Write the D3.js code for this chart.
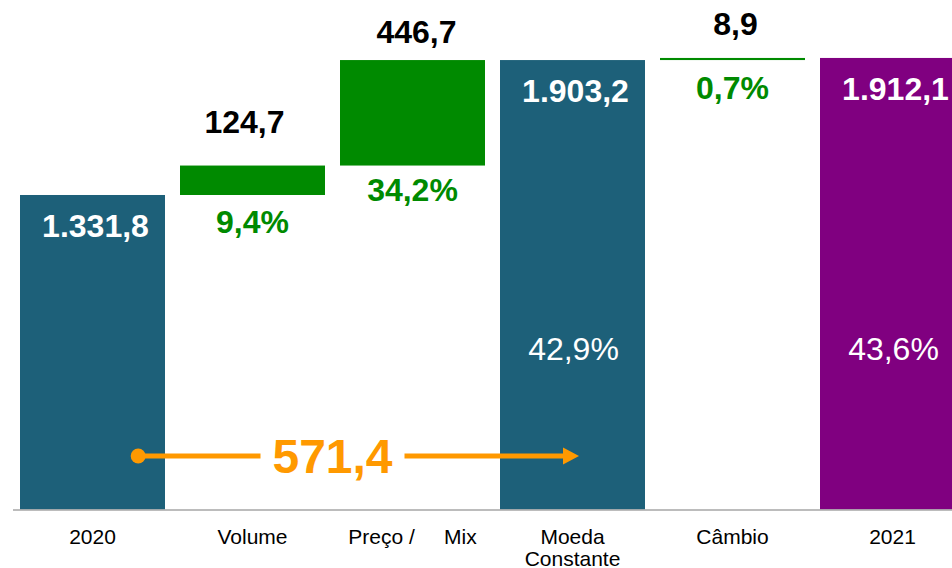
<!DOCTYPE html>
<html>
  <head>
    <meta charset="utf-8">
    <title>Ponte 2020 - 2021</title>
    <script src="https://d3js.org/d3.v7.min.js"></script>
    <style>
      body { margin: 0; background: #fff; }
      text { font-family: "Liberation Sans", Arial, sans-serif; }
    </style>
  </head>

  <body>
    <svg width="952" height="568"></svg>

    <script type="text/javascript">
      // data
      var categories = ["2020", "Volume", "Preço / Mix", "Moeda Constante", "Câmbio", "2021"];
      var tickLabels = [["2020"], ["Volume"], ["Preço /     Mix"], ["Moeda", "Constante"], ["Câmbio"], ["2021"]];
      var values = [1331.8, 124.7, 446.7, 1903.2, 8.9, 1912.1];
      var kinds = ["total", "delta", "delta", "total", "delta", "total"];
      var shares = ["", "9,4%", "34,2%", "42,9%", "0,7%", "43,6%"];
      var bridge = { from: "2020", to: "Moeda Constante", value: 571.4 };

      var teal = "#1d6079", green = "#008a00", purple = "#800080", orange = "#ff9900";
      var barColors = [teal, green, green, teal, green, purple];

      var br = d3.formatLocale({ decimal: ",", thousands: ".", grouping: [3], currency: ["R$", ""] });
      var fmt = br.format(",.1f");

      var svg = d3.select("svg");

      var x = d3.scaleBand()
        .domain(categories)
        .range([12.5, 972.5])
        .paddingInner(0.09375)
        .paddingOuter(0.046875);

      var y = d3.scaleLinear()
        .domain([0, 2157.5])
        .range([509.5, 0]);

      // waterfall: each delta starts where the running total is
      var run = 0;
      var bars = categories.map(function(c, i) {
        var lo, hi;
        if (kinds[i] == "total") { lo = 0; hi = values[i]; run = values[i]; }
        else { lo = run; hi = run + values[i]; run = hi; }
        return { cat: c, lo: lo, hi: hi, v: values[i], kind: kinds[i], share: shares[i], i: i };
      });

      svg.selectAll("rect.bar")
        .data(bars)
        .enter().append("rect")
          .attr("class", "bar")
          .attr("x", function(d) { return x(d.cat); })
          .attr("y", function(d) { return y(d.hi); })
          .attr("width", x.bandwidth())
          .attr("height", function(d) { return y(d.lo) - y(d.hi); })
          .style("fill", function(d) { return barColors[d.i]; });

      // axis: only the base line, labels drawn below
      var axis = svg.append("g")
        .attr("transform", "translate(0," + y(0) + ")")
        .call(d3.axisBottom(x).tickSize(0).tickFormat(""));
      axis.select(".domain").attr("stroke", "#a6a6a6").attr("stroke-width", 1.5);

      axis.selectAll(".tick text").remove();
      axis.selectAll(".tick")
        .append("text")
          .attr("text-anchor", "middle")
          .attr("fill", "#000")
          .style("font-size", "21px")
          .attr("xml:space", "preserve")
          .each(function(d, i) {
            var t = d3.select(this);
            tickLabels[i].forEach(function(line, k) {
              t.append("tspan").attr("x", 0).attr("y", 34 + k * 22).text(line);
            });
          });

      var deltas = bars.filter(function(d) { return d.kind == "delta"; });
      var totals = bars.filter(function(d) { return d.kind == "total"; });

      var lift = { "Volume": 33, "Preço / Mix": 17, "Câmbio": 23 };
      var shift = { "Volume": -8, "Preço / Mix": 4, "Câmbio": 3 };
      var drop = { "Volume": 38, "Preço / Mix": 35, "Câmbio": 39 };

      // value above each delta bar
      svg.selectAll("text.dval")
        .data(deltas)
        .enter().append("text")
          .attr("class", "dval")
          .attr("x", function(d) { return x(d.cat) + x.bandwidth() / 2 + shift[d.cat]; })
          .attr("y", function(d) { return y(d.hi) - lift[d.cat]; })
          .attr("text-anchor", "middle")
          .style("font-size", "32px")
          .style("font-weight", "bold")
          .attr("fill", "#000")
          .text(function(d) { return fmt(d.v); });

      // share under each delta bar
      svg.selectAll("text.dpct")
        .data(deltas)
        .enter().append("text")
          .attr("class", "dpct")
          .attr("x", function(d) { return x(d.cat) + x.bandwidth() / 2; })
          .attr("y", function(d) { return y(d.lo) + drop[d.cat]; })
          .attr("text-anchor", "middle")
          .style("font-size", "32px")
          .style("font-weight", "bold")
          .attr("fill", green)
          .text(function(d) { return d.share; });

      // totals: value at top, share in the middle
      svg.selectAll("text.tval")
        .data(totals)
        .enter().append("text")
          .attr("class", "tval")
          .attr("x", function(d) { return x(d.cat) + x.bandwidth() / 2 + 3; })
          .attr("y", function(d) { return y(d.hi) + 42; })
          .attr("text-anchor", "middle")
          .style("font-size", "32px")
          .style("font-weight", "bold")
          .attr("fill", "#fff")
          .text(function(d) { return fmt(d.v); });

      svg.selectAll("text.tpct")
        .data(totals.filter(function(d) { return d.share != ""; }))
        .enter().append("text")
          .attr("class", "tpct")
          .attr("x", function(d) { return x(d.cat) + x.bandwidth() / 2 + 1; })
          .attr("y", 360)
          .attr("text-anchor", "middle")
          .style("font-size", "32px")
          .attr("fill", "#fff")
          .text(function(d) { return d.share; });

      // bridge arrow 2020 -> Moeda Constante
      var ay = 456;
      var x0 = x(bridge.from) + x.bandwidth() * 0.815;
      var x1 = x(bridge.to) + x.bandwidth() * 0.545;
      var xm = (x(bridge.from) + x.bandwidth() + x(bridge.to)) / 2;

      svg.append("line")
        .attr("x1", x0).attr("y1", ay).attr("x2", xm - 72).attr("y2", ay)
        .attr("stroke", orange).attr("stroke-width", 5);
      svg.append("line")
        .attr("x1", xm + 72).attr("y1", ay).attr("x2", x1 - 14).attr("y2", ay)
        .attr("stroke", orange).attr("stroke-width", 5);
      svg.append("circle")
        .attr("cx", x0).attr("cy", ay).attr("r", 7.5)
        .attr("fill", orange);
      svg.append("path")
        .attr("d", "M" + (x1 - 16) + "," + (ay - 8.5) + "L" + x1 + "," + ay + "L" + (x1 - 16) + "," + (ay + 8.5) + "Z")
        .attr("fill", orange);
      svg.append("text")
        .attr("x", xm)
        .attr("y", ay + 17)
        .attr("text-anchor", "middle")
        .style("font-size", "48px")
        .style("font-weight", "bold")
        .attr("fill", orange)
        .text(fmt(bridge.value));
    </script>
  </body>
</html>
